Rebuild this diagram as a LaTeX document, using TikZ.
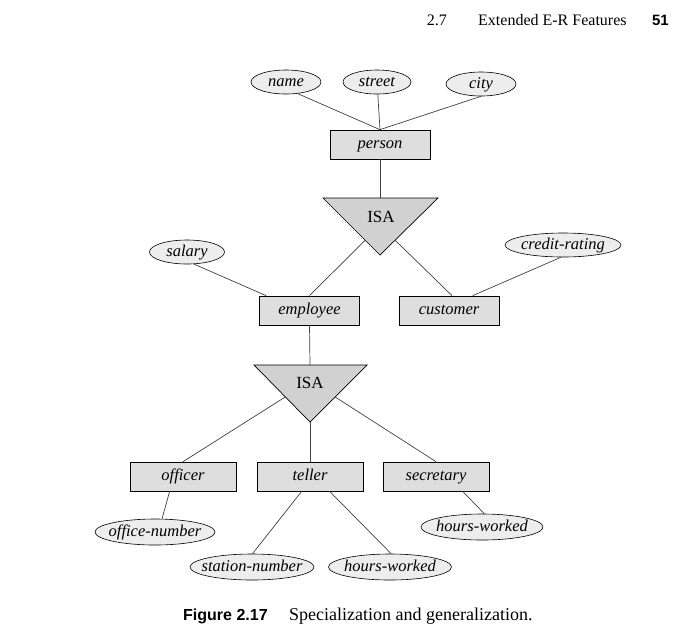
\documentclass[tikz,border=0pt]{standalone}
\usepackage{fontspec}
\setmainfont{Liberation Serif}
\newfontfamily\capsans{Liberation Sans}
\usetikzlibrary{shapes.geometric,calc}
\newcommand\ctr[1]{\makebox[0pt]{#1}}
\begin{document}
\begin{tikzpicture}[x=1pt,y=-1pt,
  lbl/.style={font=\fontsize{16.5}{18}\selectfont\itshape,text height=11.5pt,text depth=3.5pt},
  attr/.style={ellipse,draw,fill=black!7,inner sep=0pt,minimum height=24,lbl,line width=0.6pt},
  ent/.style={rectangle,draw,fill=black!13,inner sep=0pt,minimum width=100,minimum height=29,lbl,line width=0.7pt},
  conn/.style={draw=black!75,line width=0.7pt},
  isatri/.style={draw,fill=black!18,line width=0.7pt},
  isatext/.style={font=\fontsize{17}{19}\selectfont},
  plain/.style={inner sep=0pt,font=\fontsize{16}{18}\selectfont}]
\useasboundingbox (0,0) rectangle (677,641);
% top attributes
\node[attr,minimum width=70] (name) at (286,82) {\ctr{name}};
\node[attr,minimum width=68] (street) at (377,82) {\ctr{street}};
\node[attr,minimum width=70] (city) at (481,84) {\ctr{city}};
\node[ent] (person) at (380,144.5) {person};
% ISA 1
\coordinate (t1l) at (323,198);
\coordinate (t1r) at (438,198);
\coordinate (t1b) at (380,255);
\coordinate (t1top) at (380,198);
\filldraw[isatri] (t1l) -- (t1r) -- (t1b) -- cycle;
\node[isatext] (isa1) at (381,217) {ISA};
\node[ent] (employee) at (309.5,310.5) {employee};
\node[ent] (customer) at (449,310.5) {customer};
\node[attr,minimum width=75] (salary) at (187,252) {\ctr{salary}};
\node[attr,minimum width=116] (credit) at (563,245) {\ctr{credit-rating}};
% ISA 2
\coordinate (t2l) at (254,365);
\coordinate (t2r) at (367,365);
\coordinate (t2b) at (310,422);
\coordinate (t2top) at (310,365);
\filldraw[isatri] (t2l) -- (t2r) -- (t2b) -- cycle;
\node[isatext] (isa2) at (310,383) {ISA};
\node[ent,minimum width=106] (officer) at (183,476.5) {officer};
\node[ent,minimum width=106] (teller) at (310,476.5) {teller};
\node[ent,minimum width=106] (secretary) at (436,476.5) {secretary};
\node[attr,minimum width=120,minimum height=26] (officenum) at (155,532) {\ctr{office-number}};
\node[attr,minimum width=124,minimum height=26] (station) at (252,567) {\ctr{station-number}};
\node[attr,minimum width=123,minimum height=26] (hours1) at (390,567) {\ctr{hours-worked}};
\node[attr,minimum width=122,minimum height=26] (hours2) at (482,527) {\ctr{hours-worked}};
% connectors
\draw[conn] (name.-45) -- (person.north);
\draw[conn] (street) -- (person.north);
\draw[conn] (city.south) -- (person.north);
\draw[conn] (person.south) -- (t1top);
\coordinate (t1e1) at ($(t1l)!0.74!(t1b)$);
\coordinate (t1e2) at ($(t1r)!0.74!(t1b)$);
\draw[conn] (t1e1) -- (employee.north);
\draw[conn] (t1e2) -- ([xshift=3]customer.north);
\draw[conn] (salary.-60) -- ([xshift=7]employee.north west);
\draw[conn] (credit.-100) -- ([xshift=74]customer.north west);
\draw[conn] (employee.south) -- (t2top);
\coordinate (t2e1) at ($(t2l)!0.56!(t2b)$);
\coordinate (t2e2) at ($(t2r)!0.56!(t2b)$);
\draw[conn] (t2e1) -- (officer.north);
\draw[conn] (t2b) -- (teller.north);
\draw[conn] (t2e2) -- (secretary.north);
\draw[conn] ([xshift=40]officer.south west) -- (officenum.62);
\draw[conn] ([xshift=45]teller.south west) -- (station.88);
\draw[conn] ([xshift=73]teller.south west) -- (hours1.85);
\draw[conn] ([xshift=80]secretary.south west) -- (hours2.80);
% header and caption
\node[plain,anchor=base east] (sec) at (447,25) {2.7};
\node[plain,anchor=base west] (title) at (478,25) {Extended E-R Features};
\node[plain,anchor=base east,font=\capsans\bfseries\fontsize{15}{18}\selectfont] (page) at (669,25) {51};
\node[plain,anchor=base west,font=\capsans\bfseries\fontsize{16}{18}\selectfont] (fig) at (183,620) {Figure 2.17};
\node[plain,anchor=base west,font=\fontsize{18}{20}\selectfont] (captext) at (289,620) {Specialization and generalization.};
\end{tikzpicture}
\end{document}
